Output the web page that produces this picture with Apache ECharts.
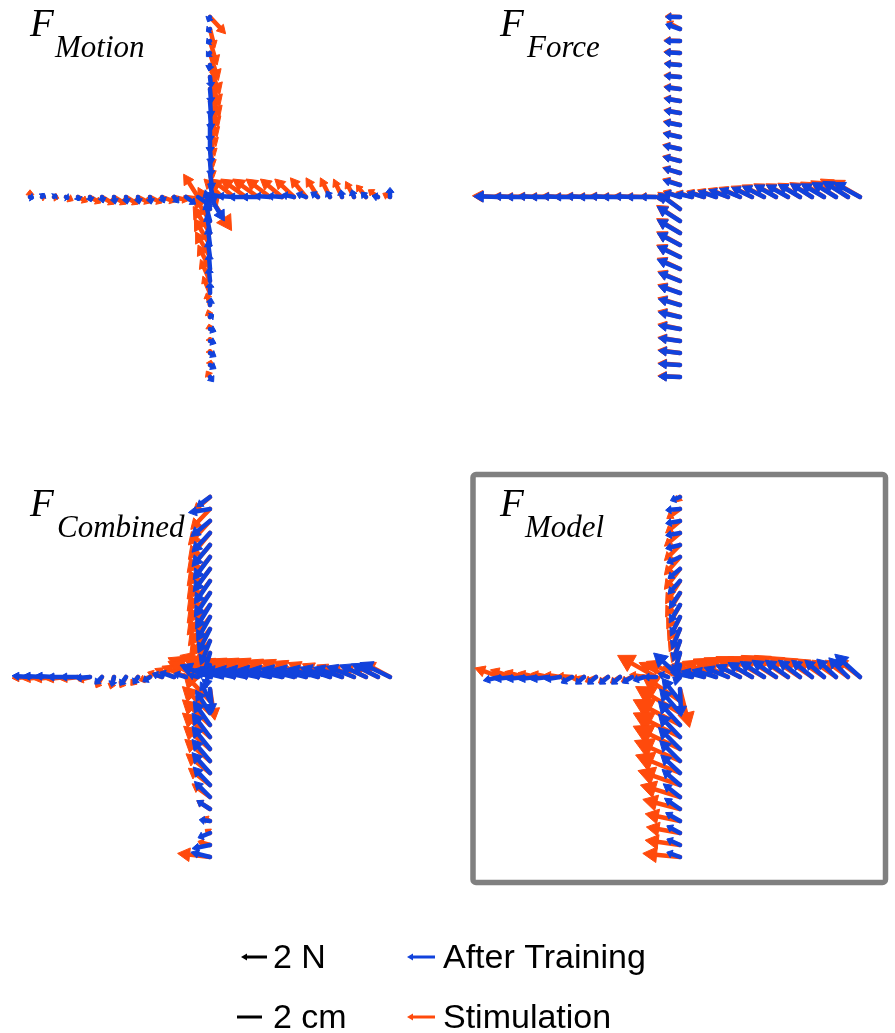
<!DOCTYPE html>
<html>
<head>
<meta charset="utf-8">
<script src="https://cdn.jsdelivr.net/npm/echarts@6/dist/echarts.min.js"></script>
<style>
  html, body { margin: 0; padding: 0; background: #fff; }
  #chart { width: 895px; height: 1033px; }
</style>
</head>
<body>
<div id="chart"></div>
<script>
// Sample distance from the workspace centre along each arm (cm)
const armSteps = [1, 2, 3, 4, 5, 6, 7, 8, 9, 10, 11, 12, 13, 14, 15];

// Endpoint force vectors [fx, fy] in N.
// Row order: centre, then up arm 1..15 cm, down arm, left arm, right arm.
const motionAfter = [
  [1.2, -2.0],
  [0.4,-1.6],[0.2,-1.4],[0.1,-1.3],[0.1,-1.3],[0.0,-1.4],[0.0,-1.5],[0.1,-1.5],[0.1,-1.4],[0.1,-1.2],[0.1,-0.9],[-0.1,-0.5],[-0.3,-0.3],[-0.3,-0.2],[-0.3,-0.2],[-0.2,-0.4],
  [-0.4,1.6],[-0.4,1.6],[-0.3,1.6],[-0.2,1.5],[-0.2,1.4],[-0.1,1.3],[-0.1,1.1],[0.0,0.9],[0.1,0.6],[0.3,0.2],[0.5,-0.2],[0.5,-0.2],[0.5,-0.3],[0.5,-0.3],[0.3,-0.4],
  [1.2,-0.8],[0.8,-0.6],[0.4,-0.5],[0.2,-0.5],[0.1,-0.6],[0.1,-0.6],[0.1,-0.6],[0.1,-0.6],[0.1,-0.5],[0.1,-0.4],[0.1,-0.3],[0.2,-0.1],[0.2,0.2],[0.2,0.3],[0.3,-0.1],
  [-1.3,0.3],[-1.4,0.1],[-1.5,0.0],[-1.4,0.0],[-1.3,0.1],[-1.2,0.1],[-1.0,0.2],[-0.8,0.3],[-0.6,0.4],[-0.3,0.5],[-0.1,0.6],[-0.2,0.6],[-0.4,0.4],[-0.5,0.1],[0.0,0.8]
];
const motionStim = [
  [1.8, -2.8],
  [0.6,-1.8],[0.3,-1.5],[0.3,-1.4],[0.3,-1.5],[0.4,-1.6],[0.5,-1.8],[0.6,-2.0],[0.7,-2.2],[0.8,-2.4],[0.8,-2.5],[0.8,-2.5],[0.7,-2.3],[0.6,-2.0],[0.4,-1.6],[1.3,-1.4],
  [-1.0,1.8],[-1.3,2.0],[-1.4,2.2],[-1.3,2.2],[-1.2,2.1],[-1.0,2.0],[-0.8,1.8],[-0.6,1.4],[-0.3,1.0],[-0.2,0.6],[-0.1,0.4],[0.0,0.3],[0.0,0.3],[0.1,0.4],[-0.3,0.5],
  [-1.2,1.9],[1.5,-0.2],[1.2,-0.3],[1.1,-0.4],[1.0,-0.5],[1.0,-0.5],[1.0,-0.6],[1.0,-0.6],[1.0,-0.6],[0.9,-0.5],[0.8,-0.4],[0.6,-0.3],[0.4,-0.1],[0.3,0.0],[0.0,0.6],
  [-1.5,1.5],[-1.9,1.5],[-2.1,1.5],[-2.1,1.5],[-2.0,1.5],[-1.8,1.5],[-1.6,1.5],[-1.3,1.6],[-1.0,1.6],[-0.8,1.6],[-0.7,1.5],[-0.7,1.3],[-0.8,1.0],[-0.8,0.6],[-0.6,0.3]
];
const forceAfter = [
  [-1.3, 0.4],
  [-1.4,0.4],[-1.4,0.4],[-1.4,0.35],[-1.4,0.3],[-1.4,0.3],[-1.35,0.25],[-1.3,0.2],[-1.3,0.2],[-1.3,0.15],[-1.3,0.1],[-1.3,0.1],[-1.3,0.05],[-1.3,0.0],[-1.2,0.4],[-1.2,0.0],
  [-1.8,1.3],[-1.9,1.2],[-1.9,1.1],[-1.9,1.0],[-1.9,0.9],[-1.9,0.8],[-1.8,0.7],[-1.8,0.6],[-1.8,0.5],[-1.8,0.4],[-1.8,0.3],[-1.8,0.25],[-1.8,0.2],[-1.8,0.1],[-1.8,0.05],
  [-1.0,-0.1],[-1.3,0.0],[-1.5,0.0],[-1.5,0.05],[-1.5,0.0],[-1.5,0.05],[-1.5,0.0],[-1.5,0.05],[-1.5,0.0],[-1.5,0.05],[-1.5,0.0],[-1.5,0.05],[-1.5,0.0],[-1.5,0.05],[-2.2,0.05],
  [-1.3,0.3],[-1.4,0.4],[-1.5,0.5],[-1.6,0.6],[-1.7,0.7],[-1.7,0.8],[-1.8,0.9],[-1.8,1.0],[-1.8,1.0],[-1.8,1.05],[-1.8,1.1],[-1.9,1.1],[-2.0,1.2],[-2.1,1.3],[-2.2,1.2]
];
const forceStim = [
  [-1.4, 0.5],
  [-1.45,0.5],[-1.45,0.45],[-1.45,0.4],[-1.45,0.35],[-1.4,0.35],[-1.4,0.3],[-1.35,0.25],[-1.35,0.25],[-1.35,0.2],[-1.35,0.15],[-1.3,0.15],[-1.35,0.1],[-1.35,0.05],[-1.1,0.6],[-1.25,0.05],
  [-1.85,1.4],[-1.95,1.3],[-1.95,1.2],[-1.95,1.1],[-1.95,1.0],[-1.9,0.9],[-1.85,0.8],[-1.85,0.7],[-1.85,0.6],[-1.85,0.5],[-1.85,0.4],[-1.85,0.3],[-1.85,0.25],[-1.85,0.15],[-1.85,0.1],
  [-1.1,0.0],[-1.35,0.05],[-1.55,0.05],[-1.55,0.1],[-1.55,0.05],[-1.55,0.1],[-1.55,0.05],[-1.55,0.1],[-1.55,0.05],[-1.55,0.1],[-1.55,0.05],[-1.55,0.1],[-1.55,0.05],[-1.55,0.1],[-2.3,0.1],
  [-1.35,0.4],[-1.45,0.5],[-1.55,0.6],[-1.65,0.7],[-1.75,0.8],[-1.75,0.9],[-1.85,1.0],[-1.85,1.1],[-1.85,1.1],[-1.85,1.15],[-1.85,1.2],[-1.95,1.25],[-2.1,1.35],[-2.3,1.5],[-2.4,1.4]
];
const combinedAfter = [
  [-2.5, 1.0],
  [-0.4,-2.0],[-0.6,-2.0],[-0.8,-2.0],[-1.0,-2.0],[-1.1,-2.0],[-1.2,-2.0],[-1.3,-2.0],[-1.3,-1.9],[-1.4,-1.9],[-1.4,-1.9],[-1.5,-1.8],[-1.5,-1.6],[-1.6,-1.3],[-1.8,-0.3],[-1.1,-0.8],
  [0.2,-2.0],[-0.8,1.6],[-1.2,1.9],[-1.4,2.0],[-1.5,2.0],[-1.5,1.9],[-1.5,1.8],[-1.5,1.7],[-1.4,1.5],[-1.3,1.3],[-1.1,0.7],[-0.9,0.1],[-1.0,-0.4],[-1.5,-0.3],[-1.6,0.4],
  [-0.8,0.2],[-1.0,0.3],[-1.2,0.4],[-0.8,0.3],[-0.6,-0.4],[-0.4,-0.6],[-0.5,-0.7],[-0.2,-0.8],[-0.6,-0.6],[-1.2,-0.1],[-1.5,0.0],[-1.6,0.0],[-1.6,0.1],[-1.6,0.1],[-1.5,0.1],
  [-2.5,0.6],[-2.7,0.6],[-2.8,0.6],[-2.9,0.6],[-2.9,0.6],[-2.9,0.6],[-2.8,0.7],[-2.7,0.7],[-2.6,0.7],[-2.5,0.8],[-2.4,0.8],[-2.3,0.9],[-2.2,1.0],[-2.2,1.1],[-2.5,1.2]
];
const combinedStim = [
  [-3.5, 1.6],
  [-2.5,0.8],[-1.6,-1.8],[-1.6,-2.2],[-1.7,-2.3],[-1.8,-2.4],[-1.9,-2.5],[-1.9,-2.5],[-1.9,-2.5],[-1.9,-2.5],[-1.9,-2.4],[-1.9,-2.3],[-1.8,-2.2],[-1.8,-2.0],[-1.6,-1.7],[-1.4,-1.2],
  [0.4,-2.6],[-2.2,2.3],[-2.3,2.2],[-2.3,2.1],[-2.3,2.0],[-2.2,1.9],[-2.1,1.8],[-2.0,1.6],[-1.8,1.4],[-1.5,1.1],[-1.1,0.7],[-0.6,0.3],[-0.4,0.3],[-1.0,0.3],[-2.7,0.3],
  [-2.5,1.3],[-2.0,0.9],[-1.6,0.7],[-1.2,0.4],[-0.9,-0.3],[-0.6,-0.7],[-0.5,-0.9],[-0.3,-1.0],[-0.5,-0.9],[-1.0,-0.3],[-1.5,-0.2],[-1.7,-0.2],[-1.7,-0.2],[-1.6,-0.2],[-1.5,-0.1],
  [-2.8,1.4],[-2.9,1.5],[-3.0,1.5],[-3.0,1.5],[-3.0,1.5],[-2.9,1.4],[-2.8,1.4],[-2.7,1.3],[-2.5,1.2],[-2.3,1.1],[-2.1,1.0],[-2.0,0.9],[-1.9,0.9],[-2.0,1.0],[-2.2,1.2]
];
const modelAfter = [
  [-2.2, 2.0],
  [-0.4,-1.7],[-0.5,-1.7],[-0.6,-1.7],[-0.7,-1.7],[-0.8,-1.6],[-0.9,-1.5],[-0.9,-1.3],[-1.0,-1.1],[-1.0,-0.8],[-1.1,-0.5],[-1.2,-0.3],[-1.2,-0.2],[-1.2,-0.2],[-1.2,-0.1],[-0.8,-0.3],
  [0.1,-2.3],[-1.5,1.9],[-1.7,2.0],[-1.8,2.0],[-1.8,1.9],[-1.8,1.8],[-1.7,1.7],[-1.6,1.5],[-1.5,1.3],[-1.4,1.1],[-1.3,0.9],[-1.2,0.7],[-1.1,0.6],[-1.1,0.5],[-1.1,0.4],
  [-0.8,0.3],[-1.0,0.0],[-0.9,-0.3],[-0.8,-0.5],[-0.7,-0.6],[-0.7,-0.6],[-0.7,-0.6],[-0.7,-0.6],[-0.9,-0.5],[-1.3,-0.2],[-1.5,-0.2],[-1.5,-0.2],[-1.5,-0.2],[-1.5,-0.2],[-1.4,-0.3],
  [-1.8,0.4],[-1.9,0.5],[-2.0,0.6],[-2.0,0.8],[-2.0,1.0],[-2.0,1.2],[-2.0,1.3],[-2.0,1.4],[-1.9,1.4],[-1.8,1.4],[-1.7,1.4],[-1.6,1.4],[-1.6,1.5],[-1.6,1.6],[-2.1,1.9]
];
const modelStim = [
  [-2.8, 1.3],
  [-0.3,-1.4],[-0.5,-1.6],[-0.7,-1.8],[-0.9,-1.9],[-1.0,-2.0],[-1.1,-2.0],[-1.2,-2.0],[-1.2,-1.9],[-1.3,-1.7],[-1.3,-1.5],[-1.3,-1.3],[-1.3,-1.1],[-1.2,-1.0],[-1.1,-0.8],[-0.3,-0.4],
  [0.8,-3.2],[-3.2,2.2],[-3.7,2.2],[-3.9,2.1],[-3.9,2.0],[-3.9,1.9],[-3.8,1.7],[-3.7,1.5],[-3.5,1.2],[-3.3,1.0],[-3.1,0.8],[-2.9,0.6],[-2.8,0.5],[-2.9,0.4],[-3.1,0.3],
  [-2.4,1.2],[-3.2,1.8],[-1.2,0.2],[-0.9,-0.4],[-0.8,-0.5],[-0.8,-0.5],[-0.9,-0.4],[-1.0,-0.2],[-1.2,0.1],[-1.3,0.2],[-1.4,0.3],[-1.5,0.35],[-1.6,0.45],[-1.8,0.6],[-2.1,0.75],
  [-2.4,0.9],[-2.6,1.1],[-2.8,1.3],[-2.9,1.5],[-3.0,1.6],[-3.0,1.7],[-3.0,1.7],[-2.9,1.8],[-2.8,1.8],[-2.6,1.7],[-2.4,1.6],[-2.2,1.5],[-2.0,1.4],[-1.9,1.4],[-2.0,1.5]
];

const panelNames = ['Motion', 'Force', 'Combined', 'Model'];
const seriesNames = ['After Training', 'Stimulation'];
const scaleLabels = ['2 N', '2 cm'];

const BLUE = '#1142dc';
const ORANGE = '#ff4a0c';

// Unit direction of each arm: up, down, left, right
const armDirections = [[0, 1], [0, -1], [-1, 0], [1, 0]];

// Attach sample positions (cm) to the force rows: [x, y, fx, fy]
function placeVectors(vectors) {
  const rows = [[0, 0, vectors[0][0], vectors[0][1]]];
  armDirections.forEach((dir, a) => {
    armSteps.forEach((s, i) => {
      const f = vectors[1 + a * armSteps.length + i];
      rows.push([dir[0] * s, dir[1] * s, f[0], f[1]]);
    });
  });
  return rows;
}

// Quiver arrow: tail at the sample position, head at position + force
function renderArrow(params, api) {
  const x = api.value(0), y = api.value(1), u = api.value(2), v = api.value(3);
  const p0 = api.coord([x, y]);
  const p1 = api.coord([x + u, y + v]);
  const dx = p1[0] - p0[0], dy = p1[1] - p0[1];
  const len = Math.hypot(dx, dy);
  if (len < 0.5) return;
  const ux = dx / len, uy = dy / len;
  const hl = Math.min(len * 0.8, Math.max(5, len * 0.37));
  const hw = Math.max(4, len * 0.21);
  const bx = p1[0] - ux * hl, by = p1[1] - uy * hl;
  const color = api.visual('color');
  return {
    type: 'group',
    children: [
      {
        type: 'line',
        shape: { x1: p0[0], y1: p0[1], x2: bx + ux, y2: by + uy },
        style: { stroke: color, lineWidth: 4.5, lineCap: 'round' }
      },
      {
        type: 'polygon',
        shape: { points: [[p1[0], p1[1]], [bx - uy * hw, by + ux * hw], [bx + uy * hw, by - ux * hw]] },
        style: { fill: color, stroke: color, lineWidth: 1, lineJoin: 'round' }
      }
    ]
  };
}

// Panel centres on the page (px); 12 px per cm
const panelCentres = [[210, 197], [680, 197], [210, 677], [680, 677]];
const HALF = 192;
const grids = panelCentres.map(c => ({ left: c[0] - HALF, top: c[1] - HALF, width: 2 * HALF, height: 2 * HALF }));
const xAxes = grids.map((g, i) => ({ type: 'value', gridIndex: i, min: -16, max: 16, show: false }));
const yAxes = grids.map((g, i) => ({ type: 'value', gridIndex: i, min: -16, max: 16, show: false }));

const panelData = [
  [motionAfter, motionStim],
  [forceAfter, forceStim],
  [combinedAfter, combinedStim],
  [modelAfter, modelStim]
];

const series = [];
panelData.forEach((pair, i) => {
  // stimulation drawn first, after-training on top
  series.push({
    name: seriesNames[1], type: 'custom', xAxisIndex: i, yAxisIndex: i,
    renderItem: renderArrow, data: placeVectors(pair[1]), encode: { x: 0, y: 1 },
    itemStyle: { color: ORANGE }, clip: false, silent: true
  });
  series.push({
    name: seriesNames[0], type: 'custom', xAxisIndex: i, yAxisIndex: i,
    renderItem: renderArrow, data: placeVectors(pair[0]), encode: { x: 0, y: 1 },
    itemStyle: { color: BLUE }, clip: false, silent: true
  });
});

// Panel titles: italic F with subscript
const titleSpots = [[30, 55], [500, 527], [30, 57], [500, 525]];
const titleBase = [38, 38, 518, 518];
const graphics = [];
panelNames.forEach((name, i) => {
  graphics.push({
    type: 'text', x: titleSpots[i][0], y: titleBase[i] - 12,
    style: { text: 'F', font: 'italic 39px "Liberation Serif", "DejaVu Serif", serif', fill: '#000',
             align: 'left', verticalAlign: 'middle', textAlign: 'left', textVerticalAlign: 'middle' }
  });
  graphics.push({
    type: 'text', x: titleSpots[i][1], y: titleBase[i] + 11,
    style: { text: name, font: 'italic 31px "Liberation Serif", "DejaVu Serif", serif', fill: '#000',
             align: 'left', verticalAlign: 'middle', textAlign: 'left', textVerticalAlign: 'middle' }
  });
});

// Frame around the model panel
graphics.push({
  type: 'rect',
  shape: { x: 473, y: 474.5, width: 412.5, height: 408, r: 3 },
  style: { fill: 'none', stroke: '#808080', lineWidth: 5.5 }
});

// Legend glyph: left-pointing arrow
function legendArrow(tailX, tipX, y, color) {
  return [
    { type: 'line', shape: { x1: tailX, y1: y, x2: tipX + 5, y2: y }, style: { stroke: color, lineWidth: 3 } },
    { type: 'polygon', shape: { points: [[tipX, y], [tipX + 6, y - 3.6], [tipX + 6, y + 3.6]] }, style: { fill: color } }
  ];
}
const legendFont = '34px "Liberation Sans", Arial, Helvetica, sans-serif';
const row1 = 957, row2 = 1017;
graphics.push(...legendArrow(267, 241, row1, '#000'));
graphics.push({ type: 'line', shape: { x1: 237, y1: row2, x2: 262, y2: row2 }, style: { stroke: '#000', lineWidth: 3 } });
graphics.push(...legendArrow(435, 407, row1, BLUE));
graphics.push(...legendArrow(435, 407, row2, ORANGE));
[[273, row1, scaleLabels[0]], [273, row2, scaleLabels[1]], [443, row1, seriesNames[0]], [443, row2, seriesNames[1]]]
  .forEach(t => {
    graphics.push({
      type: 'text', x: t[0], y: t[1] + 1.5,
      style: { text: t[2], font: legendFont, fill: '#000',
               align: 'left', verticalAlign: 'middle', textAlign: 'left', textVerticalAlign: 'middle' }
    });
  });

const chart = echarts.init(document.getElementById('chart'), null, { renderer: 'canvas' });
chart.setOption({
  backgroundColor: '#ffffff',
  animation: false,
  grid: grids,
  xAxis: xAxes,
  yAxis: yAxes,
  series: series,
  graphic: { elements: graphics }
});
</script>
</body>
</html>
